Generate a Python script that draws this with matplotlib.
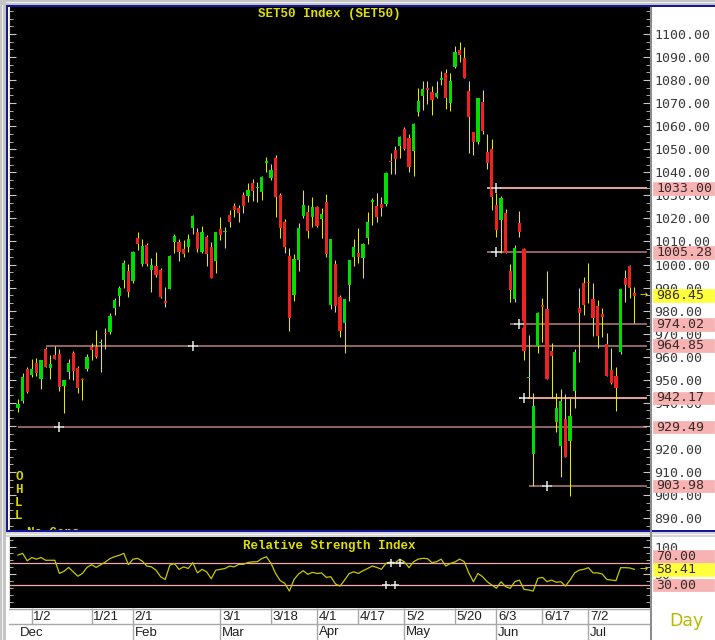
import numpy as np
import matplotlib
matplotlib.use("Agg")
import matplotlib.pyplot as plt
from matplotlib.patches import Rectangle
from matplotlib.transforms import blended_transform_factory
from matplotlib.ticker import MultipleLocator, FormatStrFormatter

# daily OHLC, late Dec .. mid Jul
opens = [937.6, 940.8, 954.8, 952.1, 957.1, 950.2, 963.3, 955.2, 960.7, 961.2,
         947.3, 953.5, 961.5, 955.0, 950.3, 954.7, 964.4, 964.1, 966.0, 970.3,
         970.9, 981.0, 986.5, 993.3, 997.2, 992.8, 1011.6, 1000.2, 1008.4, 997.6,
         999.3, 997.6, 984.3, 989.4, 1009.6, 1009.9, 1006.7, 1007.4, 1015.7, 1014.1,
         1005.6, 1011.8, 1007.7, 1001.6, 1015.5, 1013.9, 1021.5, 1025.4, 1024.6, 1030.1,
         1029.7, 1035.2, 1033.0, 1031.3, 1044.2, 1037.7, 1046.0, 1030.1, 1018.6, 1003.7,
         986.8, 1001.9, 1021.2, 1022.9, 1020.7, 1024.8, 1019.7, 1027.2, 982.4, 1000.1,
         986.0, 974.8, 991.1, 1003.4, 1005.1, 1003.0, 1011.6, 1027.3, 1025.4, 1026.1,
         1026.3, 1044.7, 1049.7, 1051.4, 1058.8, 1054.7, 1049.4, 1066.3, 1073.3, 1076.7,
         1074.7, 1072.8, 1080.0, 1082.9, 1070.2, 1085.5, 1093.1, 1089.4, 1075.4, 1057.6,
         1053.3, 1070.6, 1048.7, 1050.0, 1025.8, 1019.3, 1022.2, 997.2, 984.9, 1017.9,
         1006.6, 950.6, 917.8, 964.7, 982.4, 980.6, 962.5, 931.8, 921.4, 932.8,
         923.4, 945.3, 981.3, 992.1, 992.5, 984.9, 982.1, 978.5, 965.5, 954.2,
         951.6, 962.2, 994.0, 999.3, 987.8]
highs = [941.7, 952.8, 955.7, 958.9, 959.3, 958.6, 964.4, 960.6, 964.6, 963.2,
         949.9, 958.9, 962.5, 956.0, 950.6, 961.2, 965.8, 971.6, 967.5, 972.3,
         978.8, 985.6, 990.8, 1001.9, 1000.2, 1005.8, 1014.1, 1010.9, 1009.5, 1003.0,
         1005.6, 998.3, 990.1, 1004.1, 1013.2, 1011.1, 1010.6, 1013.2, 1021.6, 1015.7,
         1016.7, 1012.8, 1009.6, 1014.2, 1020.4, 1016.4, 1023.6, 1026.5, 1025.8, 1031.3,
         1035.2, 1037.1, 1035.9, 1038.4, 1046.8, 1043.6, 1047.5, 1030.9, 1019.6, 1007.0,
         1004.4, 1017.8, 1032.3, 1025.8, 1029.1, 1025.5, 1024.4, 1030.4, 1010.9, 1002.0,
         986.8, 984.9, 1001.9, 1010.9, 1015.7, 1009.2, 1022.9, 1028.7, 1031.2, 1029.4,
         1040.3, 1048.5, 1051.4, 1055.7, 1059.8, 1056.6, 1061.2, 1076.4, 1079.6, 1079.6,
         1077.4, 1079.6, 1083.9, 1084.7, 1083.2, 1094.8, 1096.4, 1094.2, 1079.6, 1057.6,
         1072.1, 1075.7, 1056.5, 1054.3, 1030.9, 1029.7, 1023.9, 1000.1, 1008.5, 1023.2,
         1007.0, 969.6, 944.4, 979.5, 985.3, 997.3, 966.1, 944.4, 945.8, 943.7,
         941.9, 963.2, 989.9, 994.4, 1000.5, 992.1, 984.6, 981.0, 970.1, 963.6,
         955.7, 989.2, 997.6, 999.8, 990.1]
lows = [936.2, 940.1, 944.4, 951.0, 951.6, 946.1, 955.7, 950.5, 958.9, 945.3,
        935.7, 950.5, 949.9, 944.1, 941.2, 953.8, 958.6, 959.6, 953.5, 963.2,
        969.7, 978.1, 982.1, 989.6, 985.7, 991.8, 1006.3, 999.5, 999.3, 988.2,
        994.7, 985.3, 981.7, 989.2, 1004.8, 1001.7, 1003.4, 1005.3, 1013.2, 1005.3,
        1004.8, 999.5, 994.0, 996.4, 1010.6, 1007.3, 1016.1, 1020.5, 1018.6, 1022.5,
        1027.2, 1027.7, 1027.2, 1028.0, 1040.3, 1036.6, 1020.7, 1011.6, 1004.8, 971.3,
        984.0, 997.3, 1020.0, 1011.6, 1016.1, 1016.1, 1011.6, 1003.4, 980.5, 979.5,
        968.7, 961.7, 984.3, 999.4, 1000.8, 994.0, 1008.9, 1017.1, 1018.6, 1021.0,
        1025.4, 1039.3, 1039.3, 1046.1, 1049.7, 1040.3, 1038.4, 1064.4, 1067.0, 1069.6,
        1064.9, 1072.1, 1077.9, 1067.5, 1066.7, 1085.1, 1088.0, 1080.8, 1048.2, 1047.5,
        1052.1, 1056.5, 1041.3, 1023.7, 1011.8, 1005.1, 1004.9, 983.6, 983.9, 1012.1,
        958.6, 942.0, 904.0, 961.7, 966.5, 950.2, 942.0, 927.5, 908.0, 916.3,
        899.7, 937.9, 957.9, 978.1, 983.4, 969.0, 963.6, 968.7, 951.8, 948.2,
        936.6, 961.2, 983.9, 985.3, 974.8]
closes = [939.3, 951.3, 944.8, 954.5, 952.8, 958.4, 955.7, 956.8, 958.9, 947.0,
          949.9, 957.4, 953.8, 946.3, 949.8, 959.7, 962.9, 960.0, 966.0, 969.8,
          977.8, 984.6, 989.9, 1000.5, 988.2, 1005.3, 1008.9, 1008.0, 1000.2, 999.9,
          995.4, 985.7, 983.1, 1003.8, 1012.4, 1005.6, 1004.5, 1011.1, 1021.2, 1006.7,
          1014.2, 1004.5, 994.0, 1013.9, 1012.8, 1014.7, 1018.6, 1023.6, 1022.5, 1025.4,
          1032.3, 1032.0, 1033.1, 1038.1, 1045.0, 1041.0, 1029.4, 1015.7, 1007.7, 976.9,
          1002.4, 1016.0, 1025.8, 1014.5, 1024.8, 1016.7, 1021.9, 1004.4, 1010.9, 982.0,
          971.2, 984.9, 1001.9, 1007.4, 1003.1, 1008.8, 1018.3, 1028.0, 1020.8, 1024.4,
          1039.8, 1044.4, 1045.6, 1055.5, 1050.0, 1042.5, 1061.0, 1071.1, 1076.0, 1075.7,
          1071.4, 1074.3, 1081.0, 1072.4, 1079.6, 1092.3, 1090.9, 1081.1, 1064.1, 1053.3,
          1072.1, 1058.1, 1044.2, 1029.2, 1015.0, 1028.7, 1005.1, 989.0, 1007.0, 1014.2,
          962.5, 950.7, 938.6, 979.1, 981.7, 950.2, 960.3, 937.6, 940.8, 916.3,
          934.4, 962.2, 978.8, 982.4, 991.8, 976.9, 969.0, 977.4, 951.8, 948.8,
          946.6, 989.2, 991.1, 989.7, 986.45]
rsi = [84.5, 87.6, 74, 80, 77, 80, 75, 75, 75, 51,
       55, 62, 54, 46, 51, 62, 67, 62, 67, 72,
       78, 81.5, 84, 87.6, 67, 77, 78.5, 73.6, 64.5, 63,
       57, 45, 40, 66, 69, 58.5, 63, 60, 70.6, 52,
       58.5, 54, 41.5, 57, 58.5, 60, 64.5, 63, 67.6, 67.6,
       71, 72, 72.4, 78, 81.5, 69.4, 51, 38, 33, 19,
       40, 50, 56, 49.4, 53, 51, 52, 44, 45, 32,
       28, 39, 51, 54, 51, 56, 60, 64.5, 62, 58.5,
       69.4, 72, 70.6, 77, 72, 61.5, 72.4, 77, 78.5, 78,
       70.6, 72.4, 77, 64.5, 69.4, 72, 77, 72.4, 52, 36,
       51, 45, 36, 30, 24, 36, 27, 24, 36, 39,
       22, 21, 19, 42, 44, 36, 39, 35, 36, 28,
       39, 52, 57, 58.5, 61.5, 52, 52, 50, 40, 39,
       38, 61.5, 61.5, 61, 58.41]

day_labels = ["1/2", "1/21", "2/1", "3/1", "3/18", "4/1", "4/17",
              "5/2", "5/20", "6/3", "6/17", "7/2"]
day_index = [3, 16, 25, 44, 55, 65, 74, 84, 95, 104, 114, 124]
month_labels = ["Dec", "Feb", "Mar", "Apr", "May", "Jun", "Jul"]
month_index = [0, 25, 44, 65, 84, 104, 124]

# horizontal price levels: value, first bar, bar with the "+" marker
levels = [1033.00, 1005.28, 974.02, 964.85, 942.17, 929.49, 903.98]
level_start = [102, 102, 107, 6, 109, 0, 111]
level_mark = [104, 104, 109, 38, 110, 9, 115]
bright_levels = [1033.00, 942.17]
last_close = 986.45
last_rsi = 58.41

W, H = 715, 640
fig = plt.figure(figsize=(W / 100, H / 100), dpi=100, facecolor="white")


def fig_rect(x0, y0, x1, y1):
    return [x0 / W, 1 - y1 / H, (x1 - x0) / W, (y1 - y0) / H]


def band(x0, y0, x1, y1, color):
    fig.add_artist(Rectangle((x0 / W, 1 - y1 / H), (x1 - x0) / W, (y1 - y0) / H,
                             transform=fig.transFigure, facecolor=color,
                             edgecolor="none", zorder=1))


ax = fig.add_axes(fig_rect(9, 7, 650, 530), facecolor="black")
ax_rsi = fig.add_axes(fig_rect(9, 537, 650, 608), facecolor="black")
ax_day = fig.add_axes(fig_rect(9, 608, 650, 640), facecolor="white")

n = len(closes)
x = np.arange(n)
xlim = (-1.96, 137.39)
for a in (ax, ax_rsi, ax_day):
    a.set_xlim(*xlim)
    a.set_xticks([])

o = np.array(opens)
c = np.array(closes)
up = c >= o
body_low = np.minimum(o, c)
body_h = np.maximum(np.abs(c - o), 0.45)

# candles
ax.vlines(x, lows, highs, color="#e8e800", lw=0.75, zorder=2)
ax.bar(x[up], body_h[up], bottom=body_low[up], width=0.72, color="#00dd00", zorder=3)
ax.bar(x[~up], body_h[~up], bottom=body_low[~up], width=0.72, color="#ee2222", zorder=3)

ax.set_ylim(884.82, 1111.71)
ax.set_yticks(np.arange(890, 1101, 10))
ax.yaxis.set_minor_locator(MultipleLocator(10 / 3))
ax.yaxis.set_major_formatter(FormatStrFormatter("%.2f"))
ax.tick_params(axis="y", which="both", left=True, right=True, labelleft=False,
               labelright=True, direction="in", color="#c8c8c8", pad=3)
ax.tick_params(axis="y", which="major", length=5)
ax.tick_params(axis="y", which="minor", length=3)
for lab in ax.get_yticklabels():
    lab.set_family("DejaVu Sans Mono")
    lab.set_fontsize(9.5)
    lab.set_color("#3a3a3a")
for s in ("top", "bottom"):
    ax.spines[s].set_visible(False)
ax.spines["left"].set_color("#e0e0e0")
ax.spines["right"].set_color("#8c8c8c")

# support / resistance lines
for lv, st, mk in zip(levels, level_start, level_mark):
    col = "#ffacac" if lv in bright_levels else "#9c6c6c"
    ax.hlines(lv, st, xlim[1] - 0.6, color=col, lw=1.3, zorder=1.5)
    ax.plot(mk, lv, marker="s", ms=5, color="black", zorder=4)
    ax.plot(mk, lv, marker="+", ms=7, mew=1.1, color="#e8e8e8", zorder=5)


def tag(axis, value, text, face, shift=0):
    # value box on the right axis; shift moves it up by that many pixels
    tr = blended_transform_factory(axis.transAxes, axis.transData)
    ylo, yhi = axis.get_ylim()
    ppu = axis.bbox.height / (yhi - ylo)
    wpx = axis.bbox.width
    h = 12.5 / ppu
    yc = value + shift / ppu
    axis.add_patch(Rectangle((1 + 3 / wpx, yc - h / 2), 61 / wpx, h, transform=tr,
                             facecolor=face, edgecolor=face, lw=0.5,
                             clip_on=False, zorder=6))
    axis.text(1 + 6 / wpx, yc, text, transform=tr, ha="left", va="center",
              family="DejaVu Sans Mono", fontsize=9.5, color="#3a2a2a",
              zorder=7, clip_on=False)


for lv in levels:
    tag(ax, lv, f"{lv:.2f}", "#f7b2b2")
tag(ax, last_close, f"{last_close:.2f}", "#ffff3c")
tr_main = blended_transform_factory(ax.transAxes, ax.transData)
ax.text(1 - 6 / ax.bbox.width, last_close, "\u2192", transform=tr_main, ha="center",
        va="center", color="#e8e800", fontsize=7, zorder=6)

ax.text(0.5, 1 - 7 / ax.bbox.height, "SET50 Index (SET50)", transform=ax.transAxes,
        ha="center", va="center", family="Liberation Mono", weight="bold",
        fontsize=9, color="#e0e000")
for k, ch in enumerate("OHLL"):
    ax.text(10 / ax.bbox.width, (530 - 470 - 13 * k - 7) / ax.bbox.height, ch,
            transform=ax.transAxes, ha="center", va="center", family="Liberation Mono",
            weight="bold", fontsize=9, color="#d8d800")
ax.text(18 / ax.bbox.width, 3 / ax.bbox.height, "No Gaps", transform=ax.transAxes,
        ha="left", va="top", family="Liberation Mono", weight="bold", fontsize=9,
        color="#d8d800", clip_on=True)

# RSI panel
ax_rsi.plot(x, rsi, color="#c8c800", lw=0.9, zorder=3)
ax_rsi.set_ylim(-11.8, 117.3)
ax_rsi.axhline(70, color="#f0a8a8", lw=0.9, zorder=2)
ax_rsi.axhline(30, color="#f0a8a8", lw=0.9, zorder=2)
ax_rsi.plot([81, 83], [70, 70], "+", ms=6, mew=1.1, color="#e8e8e8", zorder=4)
ax_rsi.plot([80, 82], [30, 30], "+", ms=6, mew=1.1, color="#e8e8e8", zorder=4)
ax_rsi.set_yticks([50, 100])
ax_rsi.set_yticklabels(["50", "100"])
ax_rsi.yaxis.set_minor_locator(MultipleLocator(12.5))
ax_rsi.tick_params(axis="y", which="both", left=True, right=True, labelleft=False,
                   labelright=True, direction="in", color="#c8c8c8", pad=3)
ax_rsi.tick_params(axis="y", which="major", length=5)
ax_rsi.tick_params(axis="y", which="minor", length=3)
for lab in ax_rsi.get_yticklabels():
    lab.set_family("DejaVu Sans Mono")
    lab.set_fontsize(9.5)
    lab.set_color("#3a3a3a")
for s in ("top", "bottom"):
    ax_rsi.spines[s].set_visible(False)
ax_rsi.spines["left"].set_color("#e0e0e0")
ax_rsi.spines["right"].set_color("#8c8c8c")
ax_rsi.text(0.5, 1 - 9 / ax_rsi.bbox.height, "Relative Strength Index",
            transform=ax_rsi.transAxes, ha="center", va="center", family="Liberation Mono",
            weight="bold", fontsize=9, color="#e0e000")
tag(ax_rsi, 70, "70.00", "#f7b2b2", shift=6.5)
tag(ax_rsi, 30, "30.00", "#f7b2b2")
tag(ax_rsi, last_rsi, f"{last_rsi:.2f}", "#ffff3c")
tr_rsi = blended_transform_factory(ax_rsi.transAxes, ax_rsi.transData)
ax_rsi.text(1 - 6 / ax_rsi.bbox.width, last_rsi, "\u2192", transform=tr_rsi, ha="center",
            va="center", color="#e8e800", fontsize=7, zorder=6)

# date rows
ax_day.set_ylim(32, 0)
ax_day.set_yticks([])
for s in ax_day.spines.values():
    s.set_visible(False)
ax_day.axhline(0.5, color="#a8a8a8", lw=1)
ax_day.axhline(15.5, color="#a8a8a8", lw=1)
ax_day.vlines(day_index, 0, 15.5, color="#a8a8a8", lw=1)
ax_day.vlines(month_index[1:], 15.5, 32, color="#a8a8a8", lw=1)
for i, lab in zip(day_index, day_labels):
    ax_day.text(i + 0.35, 8.5, lab, ha="left", va="center", family="Liberation Sans",
                fontsize=9.5, color="#202020")
for i, lab in zip(month_index, month_labels):
    ax_day.text(i + 0.35, 24.5, lab, ha="left", va="center", family="Liberation Sans",
                fontsize=9.5, color="#202020")

# window frame
band(0, 0, W, 5, "#c4c4c4")
band(0, 2, W, 3, "#f2f2f2")
band(0, 5, W, 7, "#16169c")
band(0, 0, 6, H, "#c4c4c4")
band(2, 5, 3, H, "#f2f2f2")
band(6, 5, 8, 530, "#16169c")
band(6, 530, W, 532, "#16169c")
band(6, 532, W, 536.5, "#d6d6d6")
band(6, 533.5, W, 534.5, "#f4f4f4")
band(650, 7, 651.5, H, "#8c8c8c")

fig.text(686 / W, 1 - 621 / H, "Day", ha="center", va="center", family="DejaVu Sans",
         fontsize=12.5, color="#b8b800")

fig.savefig("out.png", dpi=100, facecolor="white")
